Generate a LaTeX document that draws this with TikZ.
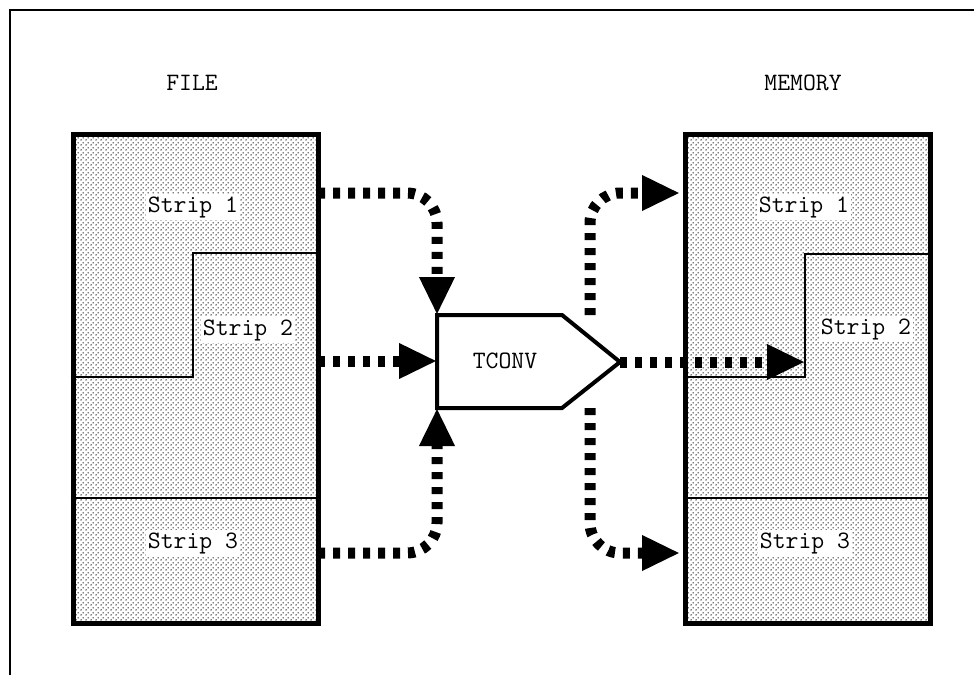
\documentclass[tikz,border=0pt]{standalone}
\usepackage{fontspec}
\usetikzlibrary{arrows.meta,patterns}

% fine stipple used to shade the storage blocks
\pgfdeclarepatternformonly{stipple}{\pgfqpoint{0pt}{0pt}}{\pgfqpoint{5pt}{5pt}}{\pgfqpoint{5pt}{5pt}}{%
  \pgfpathcircle{\pgfqpoint{1.25pt}{1.25pt}}{0.85pt}%
  \pgfpathcircle{\pgfqpoint{3.75pt}{3.75pt}}{0.85pt}%
  \pgfusepath{fill}}

\begin{document}
\begin{tikzpicture}[x=1pt,y=-1pt,
  lbl/.style={font=\ttfamily\fontsize{25}{27}\selectfont, inner sep=2pt},
  strip/.style={lbl, fill=white},
  store/.style={draw, line width=5pt, pattern=stipple, inner sep=0pt,
                anchor=north west, minimum width=245pt, minimum height=489pt},
  storeframe/.style={draw, line width=5pt, inner sep=0pt,
                anchor=north west, minimum width=245pt, minimum height=489pt},
  divider/.style={line width=1.6pt},
  flow/.style={line width=11pt, dash pattern=on 7pt off 8pt,
               -{Triangle[length=38pt,width=33pt]}},
  curved/.style={rounded corners=30pt}]

\useasboundingbox (0,0) rectangle (974,675);
\draw[line width=2pt] (10,675) -- (10,10) -- (974,10);

% ---------- FILE ----------
\node[lbl] (filetitle) at (192,83) {FILE};
\node[store] (file) at (70.5,131.5) {};
\draw[divider] (file.west |- 0,377) -- (193,377) -- (193,253) -- (file.east |- 0,253);
\draw[divider] (file.west |- 0,498) -- (file.east |- 0,498);
\node[strip] (fs1) at (193,207) {Strip 1};
\node[strip] (fs2) at (248,330) {Strip 2};
\node[strip] (fs3) at (193,543) {Strip 3};
\node[storeframe] at (70.5,131.5) {};

% ---------- MEMORY ----------
\node[lbl] (memtitle) at (803,83) {MEMORY};
\node[store] (mem) at (682.5,131.5) {};
\draw[divider] (mem.west |- 0,377) -- (805,377) -- (805,254) -- (mem.east |- 0,254);
\draw[divider] (mem.west |- 0,498) -- (mem.east |- 0,498);
\node[strip] (ms1) at (804,207) {Strip 1};
\node[strip] (ms2) at (866,329) {Strip 2};
\node[strip] (ms3) at (805,543) {Strip 3};
\node[storeframe] at (682.5,131.5) {};

% ---------- TCONV ----------
\draw[line width=4pt, fill=white, line join=miter]
  (437,315) -- (562,315) -- (620,362) -- (562,408) -- (437,408) -- cycle;
\node[lbl] (tc) at (505,361) {TCONV};
\coordinate (tcN) at (437,315);
\coordinate (tcW) at (437,361);
\coordinate (tcS) at (437,408);
\coordinate (tcE) at (620,362);
\coordinate (tcNE) at (590,315);
\coordinate (tcSE) at (590,408);

% ---------- flows ----------
\coordinate (fo1) at (318,193);
\coordinate (fo2) at (318,361);
\coordinate (fo3) at (318,553);
\coordinate (mi1) at (680,193);
\coordinate (mi2) at (805,362);
\coordinate (mi3) at (680,553);

\draw[flow, curved] (fo1) -- (tcN |- fo1) -- (tcN);
\draw[flow] (fo2) -- (tcW);
\draw[flow, curved] (fo3) -- (tcS |- fo3) -- (tcS);
\draw[flow, curved] (tcNE) -- (tcNE |- mi1) -- (mi1);
\draw[flow] (tcE) -- (mi2);
\draw[flow, curved] (tcSE) -- (tcSE |- mi3) -- (mi3);
\end{tikzpicture}
\end{document}
